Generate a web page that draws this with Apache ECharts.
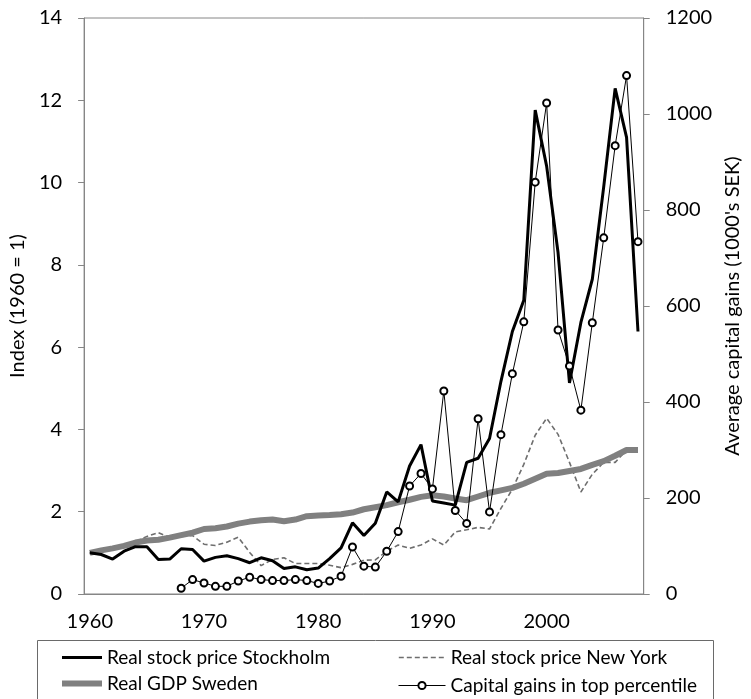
<!DOCTYPE html>
<html>
<head>
<meta charset="utf-8">
<script src="https://cdn.jsdelivr.net/npm/echarts@6/dist/echarts.min.js"></script>
<style>html,body{margin:0;padding:0;background:#fff;}#c{width:751px;height:699px;}</style>
</head>
<body>
<div id="c"></div>
<script>
const years = ['1960','1961','1962','1963','1964','1965','1966','1967','1968','1969',
  '1970','1971','1972','1973','1974','1975','1976','1977','1978','1979',
  '1980','1981','1982','1983','1984','1985','1986','1987','1988','1989',
  '1990','1991','1992','1993','1994','1995','1996','1997','1998','1999',
  '2000','2001','2002','2003','2004','2005','2006','2007','2008'];

const stockholm = [1.00,0.96,0.85,1.04,1.15,1.15,0.84,0.85,1.10,1.08,
  0.80,0.89,0.93,0.86,0.76,0.88,0.81,0.62,0.66,0.59,
  0.63,0.86,1.12,1.73,1.42,1.72,2.48,2.24,3.11,3.63,
  2.26,2.21,2.16,3.20,3.30,3.78,5.17,6.38,7.14,11.76,
  10.40,8.30,5.13,6.60,7.65,9.90,12.29,11.10,6.38];

const newYork = [1.00,1.05,1.10,1.17,1.27,1.40,1.49,1.37,1.40,1.42,
  1.21,1.18,1.26,1.38,1.01,0.69,0.84,0.88,0.74,0.74,
  0.74,0.70,0.64,0.72,0.82,0.83,1.04,1.19,1.11,1.19,
  1.34,1.19,1.51,1.56,1.62,1.58,2.08,2.55,3.15,3.86,
  4.27,3.88,3.20,2.48,2.91,3.20,3.20,3.50,null];

const gdp = [1.00,1.06,1.11,1.17,1.25,1.30,1.32,1.37,1.43,1.49,
  1.58,1.60,1.64,1.71,1.76,1.79,1.81,1.77,1.81,1.89,
  1.91,1.92,1.94,1.98,2.06,2.11,2.16,2.23,2.29,2.36,
  2.40,2.37,2.32,2.28,2.37,2.46,2.52,2.58,2.68,2.80,
  2.92,2.94,2.99,3.04,3.14,3.23,3.36,3.50,3.50];

const capGains = [null,null,null,null,null,null,null,null,12,30,
  23,16,16,27,35,30,28,28,30,28,
  22,27,37,98,58,56,89,130,225,251,
  219,423,174,147,365,171,332,459,567,858,
  1023,550,475,383,565,742,934,1080,734];

const seriesNames = ['Real stock price Stockholm','Real stock price New York','Real GDP Sweden','Capital gains in top percentile'];

const FONT = 'Lato';
const FS = 20;
const LFS = 19;
const axisCol = '#868686';
const noSym = {opacity: 0};

const chart = echarts.init(document.getElementById('c'), null, {renderer:'canvas'});
chart.setOption({
  animation: false,
  backgroundColor: '#fff',
  textStyle: {fontFamily: FONT},
  grid: {left: 79, right: 91, top: 18, bottom: 105, show: true, borderColor: axisCol, borderWidth: 1, containLabel: false},
  legend: [
    {data: [{name: seriesNames[0], itemStyle: noSym, lineStyle: {width: 3, color: '#000'}},
            {name: seriesNames[2], itemStyle: noSym, lineStyle: {width: 6, color: '#808080'}}],
     orient: 'vertical', left: 59, top: 648, padding: 0,
     itemWidth: 40, itemHeight: 14, itemGap: 7, textStyle: {fontSize: LFS, fontFamily: FONT, color: '#000'}},
    {data: [{name: seriesNames[1], itemStyle: noSym, lineStyle: {width: 1.6, color: '#6e6e6e', type: [5, 3]}}],
     orient: 'vertical', left: 398, top: 648, padding: 0,
     itemWidth: 47, itemHeight: 14, textStyle: {fontSize: LFS, fontFamily: FONT, color: '#000'}},
    {data: [{name: seriesNames[3], lineStyle: {width: 1, color: '#000'}, itemStyle: {borderWidth: 1}}],
     orient: 'vertical', left: 398, top: 676, padding: 0,
     itemWidth: 47, itemHeight: 9, textStyle: {fontSize: LFS, fontFamily: FONT, color: '#000'}}
  ],
  graphic: [{type: 'rect', shape: {x: 37.5, y: 640.5, width: 676, height: 70}, style: {fill: 'none', stroke: '#6a6a6a', lineWidth: 1}, silent: true, z: -1}],
  xAxis: {
    type: 'category', data: years, boundaryGap: true,
    axisLine: {lineStyle: {color: axisCol}},
    axisTick: {interval: 9, length: 6, lineStyle: {color: axisCol}, alignWithLabel: false},
    axisLabel: {interval: 9, margin: 18, fontSize: FS, fontFamily: FONT, color: '#000'},
    splitLine: {show: false}
  },
  yAxis: [
    {type: 'value', min: 0, max: 14, interval: 2,
     name: 'Index (1960 = 1)', nameLocation: 'middle', nameGap: 47, nameRotate: 90,
     nameTextStyle: {fontSize: FS, fontFamily: FONT, color: '#000'},
     axisLine: {show: true, lineStyle: {color: axisCol}},
     axisTick: {show: true, length: 6, lineStyle: {color: axisCol}},
     axisLabel: {margin: 22, fontSize: FS, fontFamily: FONT, color: '#000'},
     splitLine: {show: false}},
    {type: 'value', min: 0, max: 1200, interval: 200, position: 'right',
     name: "Average capital gains (1000's SEK)", nameLocation: 'middle', nameGap: 74, nameRotate: 90,
     nameTextStyle: {fontSize: FS, fontFamily: FONT, color: '#000'},
     axisLine: {show: true, lineStyle: {color: axisCol}},
     axisTick: {show: true, length: 6, lineStyle: {color: axisCol}},
     axisLabel: {margin: 22, fontSize: FS, fontFamily: FONT, color: '#000', formatter: function (v) { return String(v); }},
     splitLine: {show: false}}
  ],
  series: [
    {name: seriesNames[1], type: 'line', data: newYork, yAxisIndex: 0, symbol: 'none', z: 2,
     lineStyle: {color: '#6e6e6e', width: 1.6, type: [5, 3]}, itemStyle: {color: '#6e6e6e'}},
    {name: seriesNames[2], type: 'line', data: gdp, yAxisIndex: 0, symbol: 'none', z: 3,
     lineStyle: {color: '#808080', width: 6}, itemStyle: {color: '#808080'}},
    {name: seriesNames[0], type: 'line', data: stockholm, yAxisIndex: 0, symbol: 'none', z: 4,
     lineStyle: {color: '#000', width: 3}, itemStyle: {color: '#000'}},
    {name: seriesNames[3], type: 'line', data: capGains, yAxisIndex: 1, symbol: 'emptyCircle', symbolSize: 7, z: 5,
     lineStyle: {color: '#000', width: 1}, itemStyle: {color: '#000', borderWidth: 1}}
  ]
});
</script>
</body>
</html>
